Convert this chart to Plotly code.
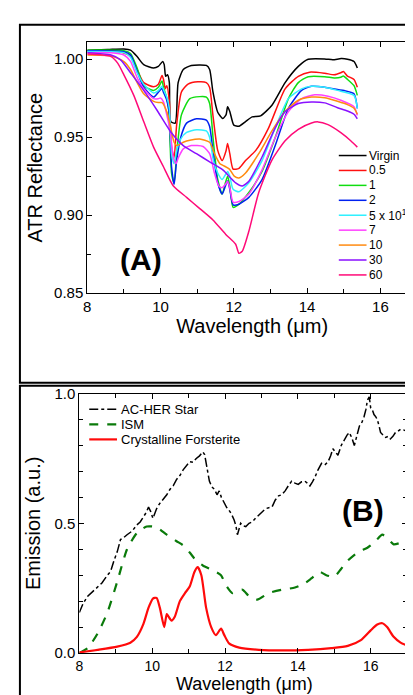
import plotly.graph_objects as go

W, H = 413, 695
FONT = "Liberation Sans, Arial, sans-serif"

# ---------------- Panel A data (ATR reflectance) ----------------
series_names = ["Virgin", "0.5", "1", "2", "5 x 10<sup>12</sup>", "7", "10", "30", "60"]
series_colors = ["#000000", "#ff1010", "#10dd10", "#0020f0", "#30f0ff", "#ff40ff", "#ff8a10", "#8a10ff", "#ff0a78"]

virgin_x = [8.0, 8.56, 9.0, 9.18, 9.36, 9.54, 9.81, 9.94, 10.06, 10.1, 10.14, 10.19, 10.24, 10.28, 10.4, 10.48, 10.62, 10.84, 11.25, 11.34, 11.43, 11.56, 11.7, 11.79, 11.83, 11.89, 12.0, 12.14, 12.32, 12.5, 12.73, 13.04, 13.4, 13.76, 14.03, 14.48, 14.7, 14.93, 15.1, 15.28, 15.37]
virgin_y = [1.0058, 1.0062, 1.0066, 1.0058, 1.0017, 0.9965, 0.9944, 0.9954, 0.9986, 0.9965, 0.989, 0.990, 0.985, 0.960, 0.959, 0.985, 0.9934, 0.996, 0.996, 0.9934, 0.979, 0.966, 0.962, 0.9645, 0.9695, 0.9665, 0.9577, 0.957, 0.960, 0.963, 0.9637, 0.9705, 0.985, 0.9954, 1.000, 1.0002, 0.9996, 1.0004, 1.0000, 0.9985, 0.9944]

r05_x = [8.0, 8.65, 9.0, 9.18, 9.36, 9.54, 9.81, 9.94, 10.04, 10.08, 10.13, 10.17, 10.24, 10.3, 10.37, 10.44, 10.57, 10.75, 11.02, 11.25, 11.34, 11.43, 11.56, 11.68, 11.79, 11.83, 11.89, 11.98, 12.14, 12.32, 12.6, 12.95, 13.4, 13.76, 14.07, 14.48, 14.74, 14.92, 14.99, 15.1, 15.28, 15.37]
r05_y = [1.0052, 1.0052, 1.004, 1.002, 0.9934, 0.985, 0.9824, 0.984, 0.9896, 0.9871, 0.981, 0.9830, 0.9730, 0.9436, 0.937, 0.958, 0.979, 0.984, 0.9855, 0.985, 0.9819, 0.964, 0.9415, 0.935, 0.9415, 0.946, 0.9394, 0.9295, 0.930, 0.935, 0.9415, 0.956, 0.981, 0.989, 0.9917, 0.991, 0.990, 0.9913, 0.9921, 0.9892, 0.987, 0.982]

g1_x = [8.0, 9.0, 9.18, 9.36, 9.54, 9.81, 9.94, 10.04, 10.08, 10.15, 10.22, 10.3, 10.37, 10.44, 10.57, 10.8, 11.07, 11.25, 11.34, 11.44, 11.56, 11.68, 11.77, 11.83, 11.89, 11.98, 12.14, 12.41, 12.77, 13.13, 13.49, 13.76, 14.03, 14.48, 14.74, 14.92, 14.99, 15.1, 15.28, 15.37]
g1_y = [1.0058, 1.0054, 1.0037, 0.9944, 0.983, 0.980, 0.9820, 0.986, 0.9820, 0.9768, 0.9685, 0.927, 0.9207, 0.9394, 0.9643, 0.9747, 0.976, 0.9757, 0.9716, 0.9477, 0.923, 0.9135, 0.9207, 0.925, 0.9187, 0.905, 0.907, 0.9145, 0.928, 0.9498, 0.9747, 0.985, 0.9888, 0.9888, 0.988, 0.9884, 0.9892, 0.9871, 0.983, 0.9768]

b2_x = [8.0, 9.0, 9.18, 9.36, 9.54, 9.81, 9.94, 10.04, 10.08, 10.17, 10.24, 10.3, 10.37, 10.44, 10.55, 10.71, 10.98, 11.25, 11.34, 11.44, 11.56, 11.68, 11.77, 11.83, 11.89, 11.98, 12.14, 12.41, 12.77, 13.13, 13.49, 13.85, 14.12, 14.48, 14.83, 15.01, 15.28, 15.37]
b2_y = [1.0054, 1.0048, 1.0027, 0.9923, 0.9820, 0.9757, 0.9788, 0.9813, 0.9788, 0.9737, 0.9643, 0.931, 0.9197, 0.9352, 0.9498, 0.959, 0.9618, 0.961, 0.9568, 0.9392, 0.9207, 0.9135, 0.9187, 0.922, 0.9166, 0.9066, 0.907, 0.9114, 0.9228, 0.9446, 0.9685, 0.980, 0.9826, 0.982, 0.9805, 0.9799, 0.9778, 0.9685]

c5_x = [8.0, 9.0, 9.18, 9.36, 9.54, 9.81, 9.94, 10.04, 10.08, 10.17, 10.24, 10.3, 10.37, 10.44, 10.55, 10.71, 10.98, 11.25, 11.34, 11.44, 11.56, 11.68, 11.77, 11.83, 11.89, 11.98, 12.14, 12.41, 12.77, 13.13, 13.49, 13.85, 14.12, 14.48, 14.83, 15.28, 15.37]
c5_y = [1.0050, 1.0042, 1.0012, 0.9913, 0.9840, 0.9784, 0.9799, 0.9826, 0.9805, 0.9757, 0.9685, 0.9394, 0.933, 0.9415, 0.9488, 0.953, 0.9548, 0.954, 0.9498, 0.9353, 0.927, 0.9228, 0.9259, 0.928, 0.9249, 0.9166, 0.915, 0.9207, 0.935, 0.956, 0.9747, 0.981, 0.9826, 0.982, 0.980, 0.9768, 0.9685]

m7_x = [8.0, 8.65, 9.0, 9.18, 9.36, 9.54, 9.81, 9.94, 10.0, 10.08, 10.17, 10.26, 10.35, 10.42, 10.49, 10.62, 10.84, 11.16, 11.34, 11.47, 11.59, 11.68, 11.77, 11.83, 11.89, 11.98, 12.14, 12.41, 12.77, 13.13, 13.49, 13.85, 14.21, 14.57, 14.92, 15.28, 15.37]
m7_y = [1.0042, 1.0042, 1.0027, 0.9986, 0.9882, 0.981, 0.9747, 0.9747, 0.9751, 0.9726, 0.9643, 0.954, 0.937, 0.933, 0.937, 0.9425, 0.9446, 0.944, 0.9394, 0.927, 0.9187, 0.9176, 0.9197, 0.9218, 0.9176, 0.9083, 0.9087, 0.9135, 0.929, 0.9498, 0.9664, 0.9747, 0.9772, 0.9763, 0.9737, 0.9695, 0.964]

o10_x = [8.0, 8.65, 9.0, 9.18, 9.36, 9.54, 9.81, 9.94, 10.04, 10.17, 10.26, 10.37, 10.44, 10.62, 10.8, 11.07, 11.34, 11.47, 11.62, 11.74, 11.88, 12.01, 12.14, 12.32, 12.68, 13.04, 13.4, 13.76, 14.12, 14.48, 14.83, 15.1, 15.28, 15.37]
o10_y = [1.0027, 1.0021, 0.9985, 0.9934, 0.9851, 0.9778, 0.973, 0.9722, 0.9722, 0.9664, 0.958, 0.9467, 0.9446, 0.9467, 0.948, 0.9488, 0.9467, 0.9394, 0.933, 0.9315, 0.9295, 0.925, 0.9238, 0.927, 0.9394, 0.954, 0.9664, 0.9737, 0.9757, 0.9753, 0.973, 0.9709, 0.9685, 0.9647]

p30_x = [8.0, 8.65, 8.91, 9.18, 9.54, 9.9, 10.26, 10.62, 10.98, 11.34, 11.7, 12.05, 12.23, 12.41, 12.77, 13.13, 13.4, 13.76, 14.12, 14.48, 14.83, 15.1, 15.28, 15.37]
p30_y = [1.0042, 1.0027, 0.9996, 0.9913, 0.980, 0.9674, 0.954, 0.9446, 0.9394, 0.9342, 0.929, 0.9207, 0.9187, 0.9218, 0.9373, 0.956, 0.9664, 0.9716, 0.9726, 0.972, 0.9689, 0.9668, 0.9647, 0.9618]

k60_x = [8.0, 8.65, 8.83, 9.0, 9.27, 9.54, 9.81, 10.08, 10.35, 10.71, 11.07, 11.43, 11.78, 12.05, 12.14, 12.23, 12.41, 12.68, 13.04, 13.4, 13.76, 14.12, 14.3, 14.57, 14.92, 15.19, 15.37]
k60_y = [1.0033, 1.0017, 0.9975, 0.990, 0.9768, 0.960, 0.9436, 0.931, 0.9187, 0.9114, 0.9042, 0.8969, 0.8876, 0.8813, 0.8755, 0.8768, 0.8896, 0.9145, 0.9353, 0.9477, 0.955, 0.9591, 0.9598, 0.958, 0.9529, 0.9477, 0.9436]

panelA_x = [virgin_x, r05_x, g1_x, b2_x, c5_x, m7_x, o10_x, p30_x, k60_x]
panelA_y = [virgin_y, r05_y, g1_y, b2_y, c5_y, m7_y, o10_y, p30_y, k60_y]

# ---------------- Panel B data (emission) ----------------
star_x = [8.0, 8.1, 8.23, 8.35, 8.5, 8.62, 8.77, 8.86, 8.95, 9.04, 9.13, 9.22, 9.31, 9.45, 9.58, 9.67, 9.76, 9.83, 9.9, 9.96, 10.02, 10.07, 10.12, 10.2, 10.31, 10.4, 10.49, 10.58, 10.67, 10.76, 10.85, 10.94, 11.03, 11.12, 11.21, 11.3, 11.39, 11.44, 11.48, 11.53, 11.57, 11.64, 11.71, 11.78, 11.84, 11.9, 11.98, 12.05, 12.11, 12.18, 12.25, 12.3, 12.34, 12.38, 12.43, 12.5, 12.57, 12.66, 12.75, 12.84, 12.93, 13.02, 13.11, 13.2, 13.29, 13.38, 13.47, 13.56, 13.65, 13.74, 13.83, 13.92, 14.01, 14.1, 14.19, 14.26, 14.33, 14.4, 14.46, 14.55, 14.65, 14.74, 14.83, 14.9, 14.96, 15.03, 15.1, 15.19, 15.28, 15.35, 15.41, 15.48, 15.55, 15.62, 15.69, 15.76, 15.82, 15.87, 15.91, 15.96, 16.0, 16.05, 16.09, 16.14, 16.18, 16.23, 16.27, 16.34, 16.41, 16.48, 16.54, 16.61, 16.68, 16.75, 16.82, 16.9, 16.97]
star_y = [0.156, 0.19, 0.219, 0.235, 0.256, 0.27, 0.3, 0.315, 0.356, 0.39, 0.4375, 0.445, 0.456, 0.47, 0.494, 0.505, 0.525, 0.54, 0.5625, 0.545, 0.519, 0.54, 0.556, 0.575, 0.594, 0.61, 0.631, 0.645, 0.669, 0.684, 0.706, 0.72, 0.7375, 0.735, 0.75, 0.76, 0.775, 0.765, 0.7375, 0.7, 0.6625, 0.64, 0.631, 0.61, 0.625, 0.6, 0.575, 0.56, 0.55, 0.535, 0.5125, 0.49, 0.456, 0.48, 0.5, 0.49, 0.4875, 0.5, 0.506, 0.52, 0.531, 0.545, 0.556, 0.56, 0.5625, 0.59, 0.606, 0.61, 0.625, 0.645, 0.6625, 0.655, 0.65, 0.66, 0.6625, 0.655, 0.644, 0.66, 0.675, 0.705, 0.731, 0.725, 0.7375, 0.76, 0.7875, 0.775, 0.7625, 0.8, 0.825, 0.84, 0.85, 0.83, 0.8, 0.84, 0.875, 0.89, 0.9125, 0.94, 0.975, 0.9875, 0.944, 0.935, 0.919, 0.91, 0.9, 0.875, 0.85, 0.84, 0.831, 0.835, 0.825, 0.835, 0.85, 0.855, 0.8625, 0.86, 0.856]

ism_x = [8.0, 8.23, 8.5, 8.77, 9.04, 9.31, 9.58, 9.85, 10.12, 10.4, 10.67, 10.85, 11.03, 11.21, 11.39, 11.66, 11.89, 12.02, 12.2, 12.34, 12.48, 12.66, 12.88, 13.2, 13.56, 13.92, 14.19, 14.37, 14.6, 14.78, 15.0, 15.19, 15.37, 15.64, 15.91, 16.09, 16.32, 16.45, 16.63, 16.82, 16.97]
ism_y = [0.0, 0.019, 0.075, 0.156, 0.275, 0.4, 0.4625, 0.4875, 0.485, 0.456, 0.431, 0.415, 0.3875, 0.356, 0.3375, 0.319, 0.3, 0.2625, 0.231, 0.24, 0.244, 0.219, 0.206, 0.231, 0.244, 0.2525, 0.269, 0.2875, 0.3125, 0.3, 0.294, 0.325, 0.356, 0.3875, 0.406, 0.425, 0.456, 0.444, 0.419, 0.425, 0.431]

fors_x = [8.0, 8.5, 9.04, 9.4, 9.58, 9.76, 9.9, 10.02, 10.12, 10.21, 10.33, 10.4, 10.45, 10.53, 10.62, 10.76, 10.9, 11.03, 11.16, 11.25, 11.35, 11.48, 11.62, 11.75, 11.89, 11.98, 12.11, 12.39, 12.93, 13.56, 14.28, 14.92, 15.37, 15.73, 16.0, 16.18, 16.32, 16.45, 16.63, 16.82, 16.97]
fors_y = [0.0025, 0.0125, 0.025, 0.04, 0.0625, 0.1125, 0.175, 0.21, 0.2125, 0.175, 0.1, 0.15, 0.14, 0.125, 0.14, 0.2, 0.231, 0.256, 0.3125, 0.331, 0.3, 0.175, 0.1, 0.069, 0.094, 0.069, 0.0375, 0.021, 0.0125, 0.01, 0.0125, 0.019, 0.0275, 0.05, 0.0875, 0.11, 0.115, 0.1, 0.0625, 0.04, 0.031]

panelB_names = ["AC-HER Star", "ISM", "Crystalline Forsterite"]
panelB_colors = ["#000000", "#0a7a0a", "#ff0a0a"]
panelB_dash = ["dashdot", "dash", "solid"]
panelB_width = [1.5, 2.2, 2.2]
panelB_x = [star_x, ism_x, fors_x]
panelB_y = [star_y, ism_y, fors_y]

x_title = "Wavelength (μm)"

fig = go.Figure()

for xs, ys, nm, col in zip(panelA_x, panelA_y, series_names, series_colors):
    fig.add_trace(go.Scatter(x=xs, y=ys, mode="lines", name=nm, showlegend=False,
                             line=dict(color=col, width=1.5, shape="spline", smoothing=0.6),
                             xaxis="x", yaxis="y"))

for xs, ys, nm, col, d, w in zip(panelB_x, panelB_y, panelB_names, panelB_colors, panelB_dash, panelB_width):
    fig.add_trace(go.Scatter(x=xs, y=ys, mode="lines", name=nm, showlegend=False,
                             line=dict(color=col, width=w, dash=d,
                                       shape="spline" if d != "dashdot" else "linear", smoothing=0.6),
                             xaxis="x2", yaxis="y2"))

def px(x):
    return x / W

def py(y):
    return 1 - y / H

axis_common = dict(showline=True, linecolor="black", linewidth=1, mirror="ticks",
                   ticks="inside", ticklen=5, tickcolor="black", showgrid=False, zeroline=False,
                   tickfont=dict(family=FONT, size=15, color="black"))

fig.update_layout(
    width=W, height=H, margin=dict(l=0, r=0, t=0, b=0),
    paper_bgcolor="white", plot_bgcolor="white",
    font=dict(family=FONT, color="black"),
    xaxis=dict(domain=[px(76), px(409)], range=[8, 17], tickvals=[8, 10, 12, 14, 16],
               minor=dict(dtick=1, tick0=8, ticks="inside", ticklen=4, tickcolor="black"),
               title=dict(text=x_title, font=dict(size=20), standoff=1),
               anchor="y", **axis_common),
    yaxis=dict(domain=[py(283), py(26)], range=[0.85, 1.0108], dtick=0.05, tick0=0.85,
               tickformat=".2f",
               minor=dict(dtick=0.025, tick0=0.85, ticks="inside", ticklen=4, tickcolor="black"),
               title=dict(text="ATR Reflectance", font=dict(size=20), standoff=6),
               anchor="x", **axis_common),
    xaxis2=dict(domain=[px(68), px(399)], range=[8, 17], tickvals=[8, 10, 12, 14, 16],
                minor=dict(dtick=1, tick0=8, ticks="inside", ticklen=4, tickcolor="black"),
                anchor="y2", **axis_common),
    yaxis2=dict(domain=[py(652), py(386)], range=[0, 1.0], dtick=0.5, tickformat=".1f",
                minor=dict(dtick=0.1, tick0=0, ticks="inside", ticklen=4, tickcolor="black"),
                title=dict(text="Emission (a.u.)", font=dict(size=20), standoff=8),
                anchor="x2", **axis_common),
)
fig.update_xaxes(tickfont=dict(size=14), selector=dict(anchor="y2"))

shapes = []
annotations = []
# panel frames
shapes.append(dict(type="rect", xref="paper", yref="paper", x0=px(8), x1=px(416), y0=py(375), y1=py(8),
                   line=dict(color="black", width=2)))
shapes.append(dict(type="rect", xref="paper", yref="paper", x0=px(8), x1=px(416), y0=py(700), y1=py(378),
                   line=dict(color="black", width=2)))

# bottom panel x-axis title (placed as annotation to stay inside the page)
annotations.append(dict(xref="paper", yref="paper", x=px(235), y=py(695), text=x_title, showarrow=False,
                        xanchor="center", yanchor="bottom", borderpad=0,
                        font=dict(family=FONT, size=18, color="black")))

# legend A (built from series lists)
legA_top, legA_step = 142, 15.3
for i, (nm, col) in enumerate(zip(series_names, series_colors)):
    yy = py(legA_top + i * legA_step)
    shapes.append(dict(type="line", xref="paper", yref="paper", x0=px(330), x1=px(358), y0=yy, y1=yy,
                       line=dict(color=col, width=1.5)))
    annotations.append(dict(xref="paper", yref="paper", x=px(359), y=yy, xanchor="left", yanchor="middle",
                            text=nm, showarrow=False, borderpad=0,
                            font=dict(family=FONT, size=12, color="black")))

# legend B
legB_top, legB_step = 402, 15.5
for i, (nm, col, d, w) in enumerate(zip(panelB_names, panelB_colors, panelB_dash, panelB_width)):
    yy = py(legB_top + i * legB_step)
    shapes.append(dict(type="line", xref="paper", yref="paper", x0=px(78), x1=px(106), y0=yy, y1=yy,
                       line=dict(color=col, width=w, dash=d)))
    annotations.append(dict(xref="paper", yref="paper", x=px(109), y=yy, xanchor="left", yanchor="middle",
                            text=nm, showarrow=False, borderpad=0,
                            font=dict(family=FONT, size=13, color="black")))

annotations.append(dict(xref="paper", yref="paper", x=px(130), y=py(249), text="<b>(A)</b>", showarrow=False,
                        xanchor="center", yanchor="middle", font=dict(family=FONT, size=30, color="black")))
annotations.append(dict(xref="paper", yref="paper", x=px(354), y=py(506), text="<b>(B)</b>", showarrow=False,
                        xanchor="center", yanchor="middle", font=dict(family=FONT, size=30, color="black")))

fig.update_layout(shapes=shapes, annotations=annotations)
fig.write_html("out.html")
